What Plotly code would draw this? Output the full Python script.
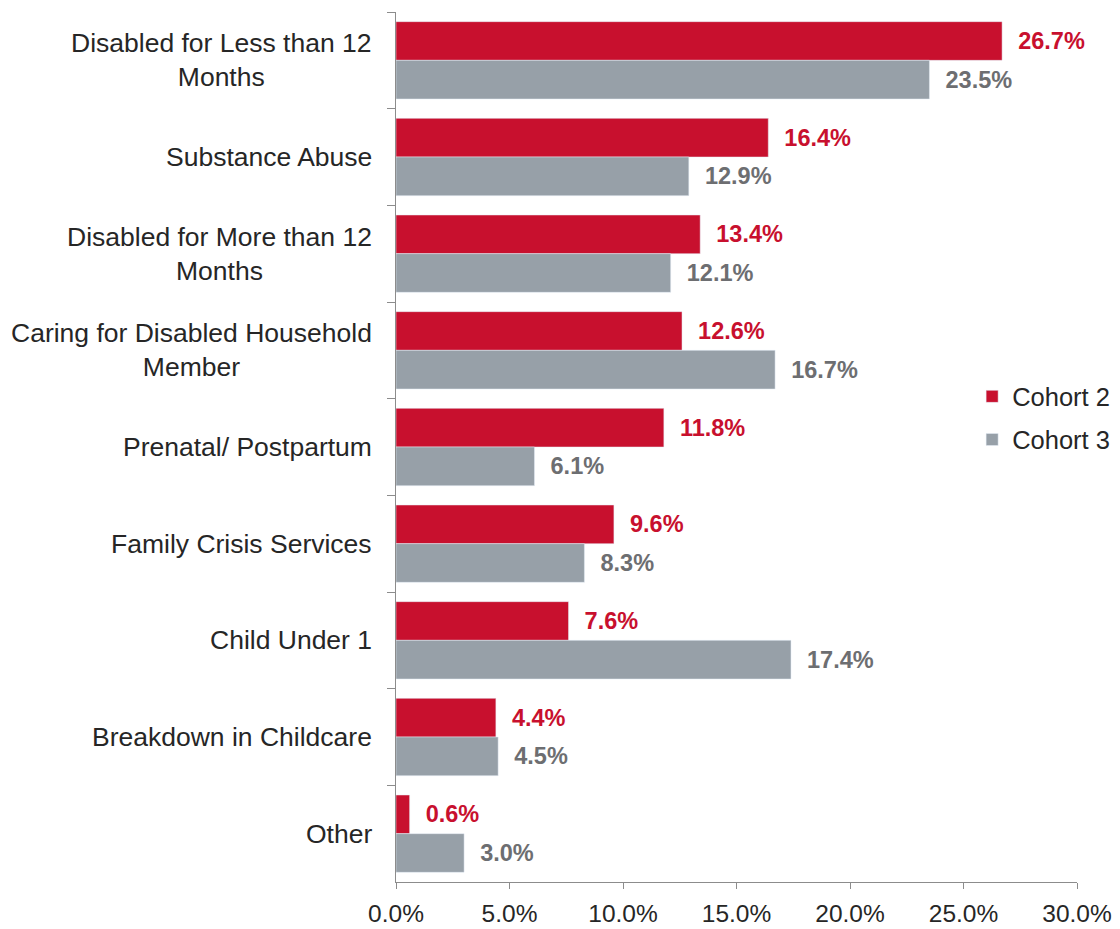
import plotly.graph_objects as go

categories = [
    "Disabled for Less than 12<br>Months",
    "Substance Abuse",
    "Disabled for More than 12<br>Months",
    "Caring for Disabled Household<br>Member",
    "Prenatal/ Postpartum",
    "Family Crisis Services",
    "Child Under 1",
    "Breakdown in Childcare",
    "Other",
]
cohort2 = [26.7, 16.4, 13.4, 12.6, 11.8, 9.6, 7.6, 4.4, 0.6]
cohort3 = [23.5, 12.9, 12.1, 16.7, 6.1, 8.3, 17.4, 4.5, 3.0]

red = "#c8102e"
grey = "#97a0a8"
font = "Liberation Sans, Arial, sans-serif"

fig = go.Figure()
fig.add_trace(go.Bar(
    name="Cohort 2", y=categories, x=cohort2, orientation="h", legendgroup="c2",
    marker_color=red, texttemplate="\u00a0\u00a0%{x:.1f}%", textposition="outside",
    textfont=dict(color=red, size=23.5, family=font, weight="bold"),
    cliponaxis=False, constraintext="none",
))
fig.add_trace(go.Bar(
    name="Cohort 3", y=categories, x=cohort3, orientation="h", legendgroup="c3",
    marker_color=grey, texttemplate="\u00a0\u00a0%{x:.1f}%", textposition="outside",
    textfont=dict(color="#6d6e71", size=23.5, family=font, weight="bold"),
    cliponaxis=False, constraintext="none",
))

# category labels as annotations so the wrapped lines stay centred
for c in categories:
    fig.add_annotation(x=0, xref="paper", y=c, yref="y", text=c, showarrow=False,
                       xanchor="right", xshift=-22, align="center",
                       font=dict(size=26.5, color="#262626", family=font))

# the page body adds an 8px offset, margins are set with that in mind
fig.update_layout(
    width=1120, height=929,
    margin=dict(l=388, r=51, t=4, b=55),
    plot_bgcolor="white", paper_bgcolor="white",
    barmode="group", bargap=0.2, bargroupgap=0,
    font=dict(family=font, color="#262626"),
    legend=dict(x=0.846, y=0.533, xanchor="left", yanchor="middle",
                font=dict(size=25.5), itemwidth=30, traceorder="grouped",
                tracegroupgap=7),
    xaxis=dict(range=[0, 30], dtick=5, tickformat=".1f", ticksuffix="%",
               showgrid=False, zeroline=False, showline=True, linecolor="#8c8c8c",
               ticks="outside", ticklen=6, tickcolor="#8c8c8c", ticklabelstandoff=4,
               tickfont=dict(size=24.5, color="#262626")),
    yaxis=dict(type="category", autorange="reversed", showticklabels=False,
               showgrid=False, showline=True, linecolor="#8c8c8c",
               ticks="outside", ticklen=8, tickcolor="#8c8c8c", tickson="boundaries"),
)

fig.write_html("out.html")
